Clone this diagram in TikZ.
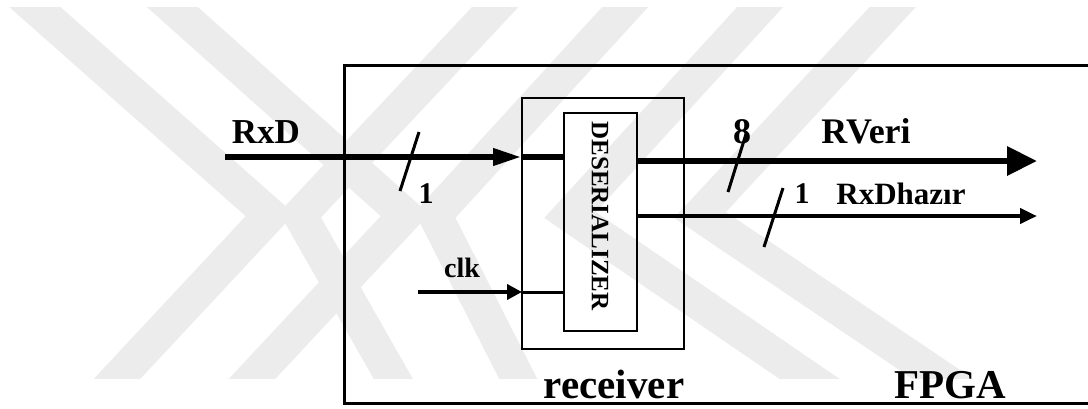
\documentclass[tikz,border=0pt]{standalone}
\usepackage{fontspec}
\setmainfont{Liberation Serif}
\usetikzlibrary{arrows.meta,calc}
\definecolor{wm}{RGB}{236,236,236}
\tikzset{
  box/.style={draw, line width=1.4pt, inner sep=0pt, outer sep=0pt},
  bus/.style={line width=6.5pt},
  sig/.style={line width=4.5pt},
  thinsig/.style={line width=3pt},
  slashmark/.style={line width=3pt},
  frame/.style={line width=3pt, line join=miter},
  lbl/.style={anchor=base, inner sep=0pt},
  wmband/.style={wm, line width=34pt, line join=miter},
}
\newcommand\fsz[1]{\bfseries\fontsize{#1}{#1}\selectfont}
\begin{document}
\begin{tikzpicture}[x=1pt,y=-1pt]
\useasboundingbox (0,0) rectangle (1088,408);
% watermark
\begin{scope}
\clip (0,7) rectangle (1088,378);
\draw[wmband] (-7,-30) -- (270,215) -- (88,410);
\draw[wmband] (131,-30) -- (405,215) -- (223,410);
\draw[wmband] (530,-30) -- (300,215) -- (411,410);
\draw[wmband] (659,-30) -- (435,215) -- (534,410);
\draw[wmband] (794,-30) -- (570,215) -- (855,410);
\draw[wmband] (927,-30) -- (700,215) -- (989,410);
\end{scope}
% FPGA frame
\draw[frame] (1092,65) -- (344,65) -- (344,403) -- (1092,403);
% boxes
\node[box, minimum width=162pt, minimum height=251pt] (recv) at (603,223.5) {};
\node[box, minimum width=73pt, minimum height=218pt] (des) at (600.5,222) {};
\node[rotate=-90, inner sep=0pt, font=\fsz{25}] (destxt) at (600,216) {DESERIALIZER};
% connectors
\coordinate (rxdin) at (225,157);
\draw[bus, -{Triangle[length=29pt,width=16pt]}] (rxdin) -- (rxdin -| recv.west);
\draw[bus] (rxdin -| recv.west) -- (rxdin -| des.west);
\coordinate (rv) at (1037,161);
\draw[bus, -{Triangle[length=30pt,width=28pt]}] (des.east |- rv) -- (rv);
\coordinate (rh) at (1037,216);
\draw[sig, -{Triangle[length=17pt,width=15pt]}] (des.east |- rh) -- (rh);
\coordinate (ck) at (418,292);
\draw[sig, -{Triangle[length=15pt,width=15pt]}] (ck) -- (ck -| recv.west);
\draw[thinsig] (ck -| recv.west) -- (ck -| des.west);
% bus width slashes
\draw[slashmark] (419,132) -- (400,191);
\draw[slashmark] (746,134) -- (728,192);
\draw[slashmark] (783,188) -- (764,247);
% labels
\node[lbl, font=\fsz{35}] (lrxd) at (266,143) {RxD};
\node[lbl, font=\fsz{30}] (l1a) at (426,203) {1};
\node[lbl, font=\fsz{36}] (l8) at (742,143) {8};
\node[lbl, font=\fsz{36}] (lrv) at (866,143) {RVeri};
\node[lbl, font=\fsz{30}] (l1b) at (802,203) {1};
\node[lbl, font=\fsz{31}] (lrh) at (901,204) {RxDhazır};
\node[lbl, font=\fsz{28}] (lclk) at (462,277) {clk};
\node[lbl, font=\fsz{41}] (lrecv) at (614,398) {receiver};
\node[lbl, font=\fsz{41}] (lfpga) at (950,398) {FPGA};
\end{tikzpicture}
\end{document}
